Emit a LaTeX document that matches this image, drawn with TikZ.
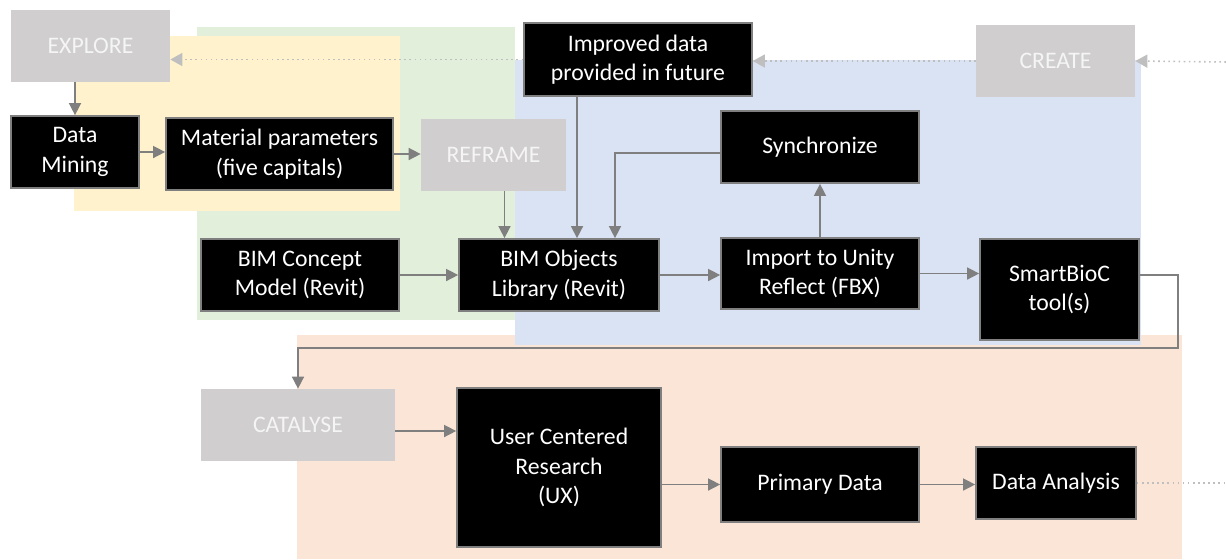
\documentclass[tikz,border=0pt]{standalone}
\usepackage{fontspec}
\setmainfont{Carlito}
\usepackage{tikz}
\usetikzlibrary{arrows.meta, calc}
\definecolor{boxgrey}{HTML}{D0CECE}
\definecolor{linegrey}{HTML}{7F7F7F}
\definecolor{dotgrey}{HTML}{BFBFBF}
\definecolor{bgyellow}{HTML}{FFF2CC}
\definecolor{bggreen}{HTML}{E2EFDA}
\definecolor{bgblue}{HTML}{DAE3F3}
\definecolor{bgorange}{HTML}{FBE5D6}
\tikzset{blackbox/.style={fill=black, draw=linegrey, line width=1pt, text=white, align=center, inner sep=0pt, font=\fontsize{13.5}{16.8}\selectfont},
    greybox/.style={fill=boxgrey, text=white!96!black, align=center, inner sep=0pt, font=\fontsize{13.5}{16.8}\selectfont},
    conn/.style={draw=linegrey, line width=0.85pt, -{Triangle[length=2.4mm,width=2.4mm]}},
    dots/.style={draw=dotgrey, line width=0.9pt, dotted, -{Triangle[length=2.4mm,width=2.6mm]}}}

\begin{document}
\begin{tikzpicture}[x=0.02cm, y=-0.02cm]
        \useasboundingbox (0,0) rectangle (1226,559);

        % coloured phases
        \fill[bgorange] (297,335) rectangle (1182,559);
        \fill[bggreen] (197,27) rectangle (515,320);
        \fill[bgyellow] (74,36) rectangle (400,211);
        \fill[bgblue] (515,60) rectangle (1141,345);

        \node [greybox, minimum width=3.18cm, minimum height=1.44cm] (explore) at (90.5,46) {EXPLORE};
        \node [greybox, minimum width=2.9cm, minimum height=1.44cm] (reframe) at (493.5,155) {REFRAME};
        \node [greybox, minimum width=3.18cm, minimum height=1.44cm] (create) at (1055.5,61) {CREATE};
        \node [greybox, minimum width=3.88cm, minimum height=1.44cm] (catalyse) at (298,425) {CATALYSE};

        \node [blackbox, minimum width=2.56cm, minimum height=1.44cm] (mining) at (75,152) {Data\\Mining};
        \node [blackbox, minimum width=4.54cm, minimum height=1.44cm] (params) at (279.5,154) {Material parameters\\(five capitals)};
        \node [blackbox, minimum width=4.56cm, minimum height=1.46cm] (improved) at (638,59.5) {Improved data\\provided in future};
        \node [blackbox, minimum width=3.96cm, minimum height=1.44cm] (sync) at (820,147) {Synchronize};
        \node [blackbox, minimum width=3.96cm, minimum height=1.44cm] (concept) at (300,275) {BIM Concept\\Model (Revit)};
        \node [blackbox, minimum width=4cm, minimum height=1.44cm] (objects) at (559,275) {BIM Objects\\Library (Revit)};
        \node [blackbox, minimum width=3.96cm, minimum height=1.42cm] (unity) at (820,273.5) {Import to Unity\\Reflect (FBX)};
        \node [blackbox, minimum width=3.18cm, minimum height=2.02cm] (smartbioc) at (1059.5,289.5) {SmartBioC\\tool(s)};
        \node [blackbox, minimum width=4.08cm, minimum height=3.18cm] (ucr) at (559,467.5) {User Centered\\Research\\(UX)};
        \node [blackbox, minimum width=3.96cm, minimum height=1.5cm] (primary) at (820,484.5) {Primary Data};
        \node [blackbox, minimum width=3.2cm, minimum height=1.44cm] (analysis) at (1056,483) {Data Analysis};

        \coordinate (inright) at (1226,62);
        \coordinate (outright) at (1226,483);
        \coordinate (loopa) at (1178,275);
        \coordinate (loopb) at (1178,348);

        % dotted feedback line
        \path[dots] (inright) -- (create.east);
        \path[dots] (create.west) -- (create.west -| improved.east);
        \path[dots] (improved.west) -- (improved.west -| explore.east);
        \draw[dotgrey, line width=0.9pt, dotted] (analysis.east) -- (outright);

        \path[conn] (mining.north |- explore.south) -- (mining.north);
        \path[conn] (mining.east) -- (mining.east -| params.west);
        \path[conn] (params.east) -- (params.east -| reframe.west);
        \path[conn] ([xshift=0.22cm]reframe.south) -- ([xshift=0.22cm]reframe.south |- objects.north);
        \path[conn] ([xshift=-1.22cm]improved.south) -- ([xshift=-1.22cm]improved.south |- objects.north);
        \path[conn] ([yshift=-0.12cm]sync.west) -| ([xshift=1.12cm]objects.north);
        \path[conn] (concept.east) -- (objects.west);
        \path[conn] (objects.east) -- (objects.east -| unity.west);
        \path[conn] (unity.north) -- (sync.south);
        \path[conn] (unity.east) -- (unity.east -| smartbioc.west);
        \path[conn] (smartbioc.east |- loopa) -- (loopa) -- (loopb) -| (catalyse.north);
        \path[conn] ([yshift=-0.12cm]catalyse.east) -- ([yshift=-0.12cm]catalyse.east -| ucr.west);
        \path[conn] (ucr.east |- primary.west) -- (primary.west);
        \path[conn] (primary.east) -- (primary.east -| analysis.west);

\end{tikzpicture}
\end{document}
